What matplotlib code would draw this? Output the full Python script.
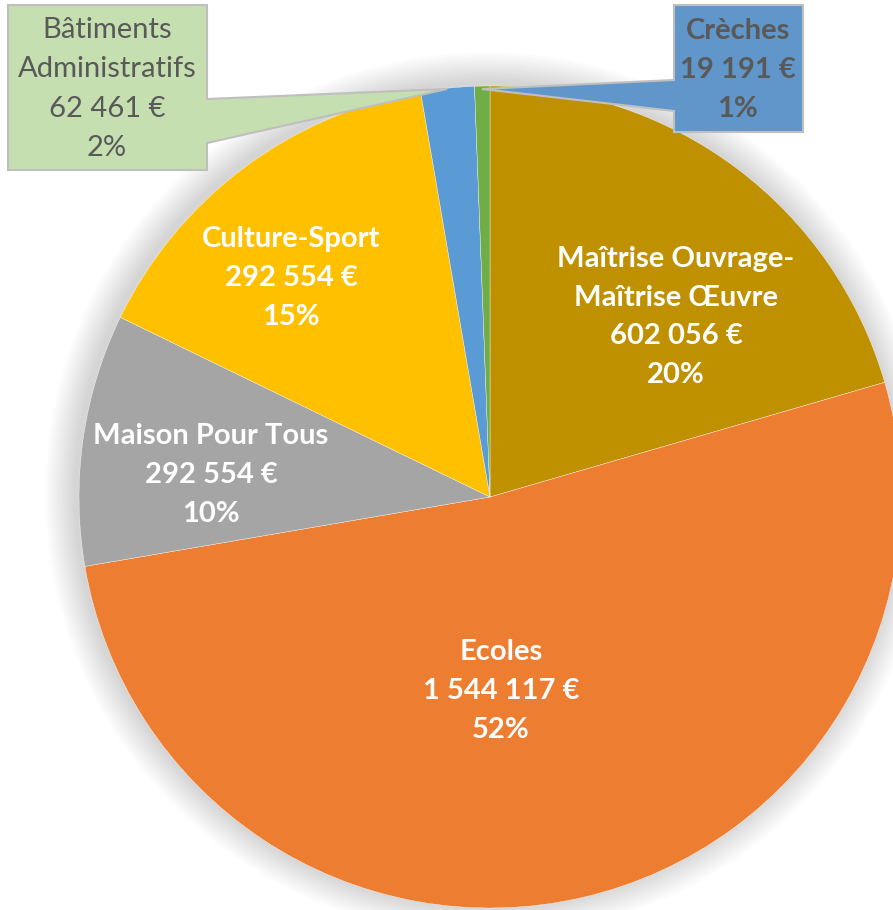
import matplotlib
matplotlib.use("Agg")
import matplotlib.pyplot as plt
from matplotlib.patches import Circle, Polygon

# ---- data ----
categories = ["Maîtrise Ouvrage-\nMaîtrise Œuvre", "Ecoles", "Maison Pour Tous",
              "Culture-Sport", "Bâtiments\nAdministratifs", "Crèches"]
amount_labels = ["602 056 €", "1 544 117 €", "292 554 €", "292 554 €", "62 461 €", "19 191 €"]
pct_labels = ["20%", "52%", "10%", "15%", "2%", "1%"]
slice_shares = [20.5, 51.8, 9.9, 15.1, 2.1, 0.6]   # slice sizes as drawn
colors = ["#BF9000", "#ED7D31", "#A5A5A5", "#FFC000", "#5B9BD5", "#70AD47"]

W, H = 893, 910
fig = plt.figure(figsize=(W / 100, H / 100), dpi=100)
ax = fig.add_axes([0, 0, 1, 1])
ax.set_xlim(0, W)
ax.set_ylim(H, 0)
ax.axis("off")

cx, cy, R = 490, 497, 411
FONT = ["Lato", "DejaVu Sans"]
FS = 21

# soft shadow / glow
for i in range(14, 0, -1):
    ax.add_patch(Circle((cx - 3, cy - 3), R + i * 2.2, color="#000000",
                        alpha=0.012, lw=0, zorder=1))

# pie drawn in an axis with y-up coordinates
pax = fig.add_axes([0, 0, 1, 1])
pax.patch.set_alpha(0)
pax.pie(slice_shares, colors=colors, startangle=90, counterclock=False,
        center=(cx, H - cy), radius=R, frame=True,
        wedgeprops=dict(edgecolor="white", linewidth=0.25))
pax.set_xlim(0, W)
pax.set_ylim(0, H)
pax.set_aspect("auto")
pax.axis("off")

# overlay axis for labels / callouts (pixel coords, y down)
lax = fig.add_axes([0, 0, 1, 1])
lax.set_xlim(0, W)
lax.set_ylim(H, 0)
lax.axis("off")
lax.patch.set_alpha(0)

# inside labels
inside = {0: (676, 317), 1: (501, 691), 2: (211, 475), 3: (291, 278)}
for idx, (x, y) in inside.items():
    txt = f"{categories[idx]}\n{amount_labels[idx]}\n{pct_labels[idx]}"
    lax.text(x, y, txt, ha="center", va="center", color="white",
             fontsize=FS, fontweight="bold", family=FONT, linespacing=1.6,
             zorder=5)

# callout boxes
green_poly = [(8, 5), (207, 5), (207, 99), (447, 89), (207, 143), (207, 170), (8, 170)]
lax.add_patch(Polygon(green_poly, closed=True, facecolor="#C5DFB1",
                      edgecolor="#BFBFBF", lw=1.5, zorder=4))
lax.text(107, 89, f"{categories[4]}\n{amount_labels[4]}\n{pct_labels[4]}",
         ha="center", va="center", color="#595959", fontsize=FS,
         family=FONT, linespacing=1.62, zorder=5)

blue_poly = [(674, 5), (803, 5), (803, 132), (674, 132), (674, 111), (482, 89), (674, 80)]
lax.add_patch(Polygon(blue_poly, closed=True, facecolor="#6096C9",
                      edgecolor="#BFBFBF", lw=1.5, zorder=4))
lax.text(738, 70, f"{categories[5]}\n{amount_labels[5]}\n{pct_labels[5]}",
         ha="center", va="center", color="#595959", fontsize=FS,
         fontweight="bold", family=FONT, linespacing=1.6, zorder=5)

fig.savefig("out.png", dpi=100, facecolor="white")
